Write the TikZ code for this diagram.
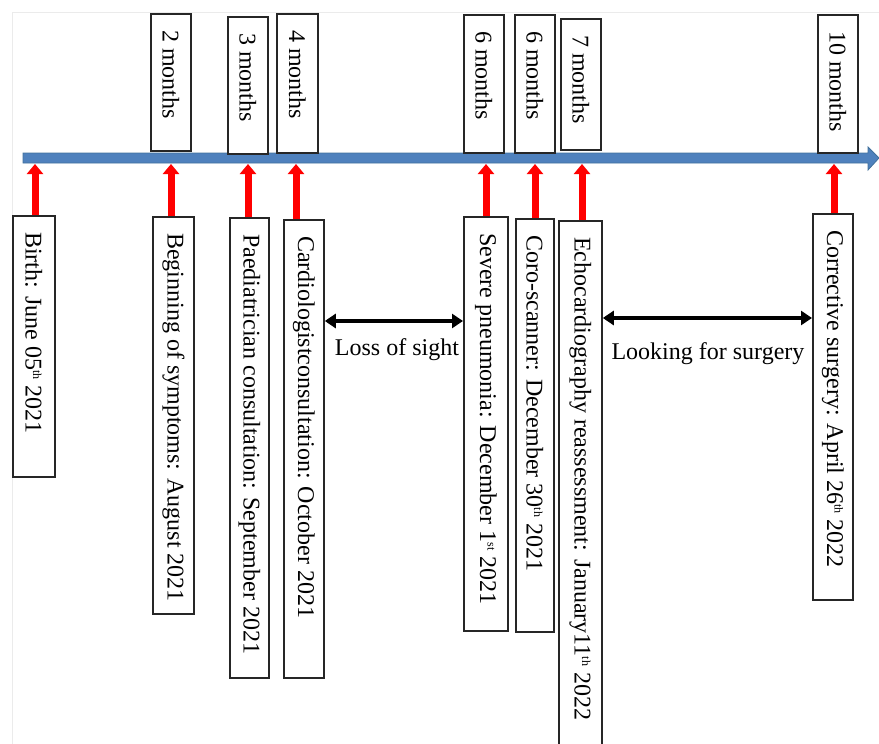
\documentclass[tikz,border=0pt]{standalone}
\usepackage{fontspec}
\setmainfont{Liberation Serif}
\usetikzlibrary{arrows.meta,calc}
\newcommand{\tlbox}[6]{%
  \node[frame, anchor=north west, minimum width={(#3-#2)*1pt}, minimum height={(#5-#4)*1pt}] (#1) at (#2,#4) {};
  \node[vtext] (#1t) at ($(#1.north)+(0,17)$) {#6};}
\newcommand{\sups}[1]{\raisebox{7.5pt}{\fontsize{12}{12}\selectfont #1}}
\begin{document}
\begin{tikzpicture}[x=1pt,y=-1pt,
  frame/.style={draw=black!85, line width=1.8pt, fill=white, inner sep=0pt},
  vtext/.style={rotate=-90, anchor=west, inner sep=0pt, font=\fontsize{24}{28}\selectfont},
  redarrow/.style={draw=red, line width=7pt, -{Triangle[width=16pt,length=10pt]}},
  dbl/.style={line width=4.5pt, {Triangle[width=14pt,length=11pt]}-{Triangle[width=14pt,length=11pt]}},
  lbl/.style={font=\fontsize{24}{28}\selectfont, inner sep=0pt, anchor=base},
  barstyle/.style={fill={rgb,255:red,79;green,129;blue,189}, draw={rgb,255:red,65;green,113;blue,156}, line width=0.8pt}
]
\useasboundingbox (0,0) rectangle (879,744);
\draw[black!8, line width=0.6pt] (12,744) -- (12,12) -- (879,12);

% timeline bar
\draw[barstyle] (23,153) -- (868,153) -- (868,147) -- (879,158) -- (868,170) -- (868,163) -- (23,163) -- cycle;

% month boxes
\tlbox{m1}{150}{190}{13}{150}{2 months}
\tlbox{m2}{227}{267}{16}{153}{3 months}
\tlbox{m3}{276}{317}{13}{152}{4 months}
\tlbox{m4}{463}{503}{14}{152}{6 months}
\tlbox{m5}{514}{554}{14}{152}{6 months}
\tlbox{m6}{560}{600}{18}{149}{7 months}
\tlbox{m7}{817}{857}{14}{152}{10 months}

% event boxes
\tlbox{b1}{12}{54}{215}{476}{Birth: June 05\sups{th} 2021}
\tlbox{b2}{152}{193}{216}{613}{Beginning of symptoms: August 2021}
\tlbox{b3}{229}{268}{217}{677}{Paediatrician consultation: September 2021}
\tlbox{b4}{283}{323}{219}{677}{Cardiologistconsultation: October 2021}
\tlbox{b5}{463}{507}{216}{630}{Severe pneumonia: December 1\sups{st} 2021}
\tlbox{b6}{515}{553}{218}{631}{Coro-scanner: December 30\sups{th} 2021}
\tlbox{b7}{558}{601}{220}{770}{Echocardiography reassessment: January11\sups{th} 2022}
\tlbox{b8}{812}{852}{213}{599}{Corrective surgery: April 26\sups{th} 2022}

% points on the bar
\coordinate (t1) at (35,164);
\coordinate (t2) at (171,164);
\coordinate (t3) at (248,164);
\coordinate (t4) at (296,164);
\coordinate (t5) at (486,164);
\coordinate (t6) at (535,164);
\coordinate (t7) at (582,164);
\coordinate (t8) at (834,164);

\draw[redarrow] (b1.north -| t1) -- (t1);
\draw[redarrow] (b2.north -| t2) -- (t2);
\draw[redarrow] (b3.north -| t3) -- (t3);
\draw[redarrow] (b4.north -| t4) -- (t4);
\draw[redarrow] (b5.north -| t5) -- (t5);
\draw[redarrow] (b6.north -| t6) -- (t6);
\draw[redarrow] (b7.north -| t7) -- (t7);
\draw[redarrow] (b8.north -| t8) -- (t8);

% intervals
\coordinate (y1) at (0,321);
\coordinate (y2) at (0,318);
\draw[dbl] (b4.east |- y1) -- (b5.west |- y1);
\draw[dbl] (b7.east |- y2) -- (b8.west |- y2);
\node[lbl] (l1) at (397,355) {Loss of sight};
\node[lbl] (l2) at (708,359) {Looking for surgery};
\end{tikzpicture}
\end{document}
